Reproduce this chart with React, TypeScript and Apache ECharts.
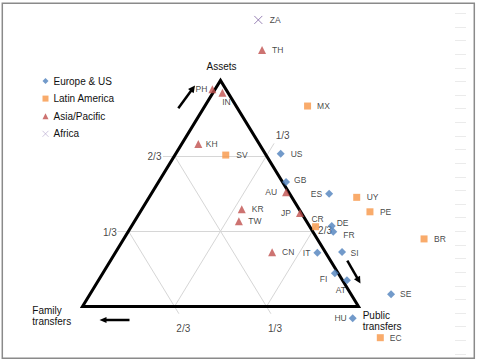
import React, { useEffect, useRef } from "react";
import * as echarts from "echarts";

// ---- Data: shares of Assets (A) and Public transfers (P); Family = 1 - A - P ----
const euNames = ["US", "GB", "ES", "DE", "FR", "IT", "SI", "FI", "AT", "SE", "HU"];
const euAssets = [0.676, 0.551, 0.499, 0.356, 0.331, 0.238, 0.241, 0.147, 0.116, 0.054, -0.052];
const euPublic = [0.38, 0.462, 0.644, 0.725, 0.743, 0.732, 0.82, 0.841, 0.9, 1.091, 1.005];

const laNames = ["MX", "SV", "UY", "PE", "CR", "BR", "EC"];
const laAssets = [0.887, 0.67, 0.483, 0.419, 0.353, 0.299, -0.138];
const laPublic = [0.372, 0.184, 0.752, 0.832, 0.668, 1.088, 1.148];

const apNames = ["TH", "PH", "IN", "KH", "AU", "KR", "TW", "JP", "CN"];
const apAssets = [1.135, 0.961, 0.946, 0.719, 0.505, 0.43, 0.377, 0.414, 0.24];
const apPublic = [0.083, -0.01, 0.034, 0.06, 0.485, 0.362, 0.378, 0.581, 0.567];

const afNames = ["ZA"];
const afAssets = [1.268];
const afPublic = [0.003];

const seriesNames = ["Europe & US", "Latin America", "Asia/Pacific", "Africa"];
const gridLevels = [1 / 3, 2 / 3];
const levelLabels = ["1/3", "2/3"];
const vertexTitles = ["Assets", "Family\ntransfers", "Public\ntransfers"];

// ---- Layout / style ----
const W = 478;
const H = 361;
const PX0 = 82.5;
const PX1 = 358.5;
const PYB = 306.5;
const PYT = 80.5;
const SX = PX1 - PX0;
const SY = PYB - PYT;
const FONT = "'Liberation Sans', Arial, sans-serif";
const X_PATH = "path://M0,0L10,10M10,0L0,10";

const toXY = (a: number, p: number) => [p + a / 2, a];

const labelPlacement: Record<string, any> = {
  ZA: { position: "right", distance: 5 },
  TH: { position: "right", distance: 6 },
  MX: { position: "right", distance: 6 },
  PH: { position: "left", distance: 1 },
  IN: { position: "bottom", distance: 1, offset: [4, 0] },
  KH: { position: "right", distance: 3.5 },
  SV: { position: "right", distance: 7 },
  US: { position: "right", distance: 6 },
  GB: { position: "right", distance: 4, offset: [0, -1.5] },
  AU: { position: "left", distance: 5 },
  ES: { position: "left", distance: 3 },
  UY: { position: "right", distance: 6.5 },
  PE: { position: "right", distance: 6.5 },
  KR: { position: "right", distance: 6 },
  TW: { position: "right", distance: 5.5 },
  JP: { position: "left", distance: 5 },
  CR: { position: "top", distance: 0, offset: [2, 0] },
  DE: { position: "right", distance: 1, offset: [0, -3] },
  FR: { position: "right", distance: 6, offset: [0, 3] },
  CN: { position: "right", distance: 6 },
  IT: { position: "left", distance: 3 },
  SI: { position: "right", distance: 4.5, offset: [0, 1] },
  FI: { position: "left", distance: 3.5, offset: [0, 6] },
  AT: { position: "bottom", distance: 1.5, offset: [-6, 0] },
  SE: { position: "right", distance: 5 },
  HU: { position: "left", distance: 2 },
  EC: { position: "right", distance: 6 },
  BR: { position: "right", distance: 6.5 },
};

// tick extensions & label offsets (pixels) per grid level index
const extA = [0.04, 0.042];
const extP = [0.055, 0.03];
const extF = [0.032, 0.032];
const offA = [[-7.5, 1.8], [-8.4, 0.2]];
const offP = [[8.6, -8.4], [8.4, 6.6]];
const offF = [[4.1, 14.6], [4.4, 14.6]];

function arrow(x1: number, y1: number, x2: number, y2: number, headLen = 7, headHalf = 3.5, width = 2.5) {
  const dx = x2 - x1;
  const dy = y2 - y1;
  const L = Math.hypot(dx, dy);
  const ux = dx / L;
  const uy = dy / L;
  const bx = x2 - ux * headLen;
  const by = y2 - uy * headLen;
  const nx = -uy;
  const ny = ux;
  return [
    {
      type: "line",
      z: 10,
      shape: { x1, y1, x2: bx + ux, y2: by + uy },
      style: { stroke: "#000", lineWidth: width },
    },
    {
      type: "polygon",
      z: 10,
      shape: {
        points: [
          [x2, y2],
          [bx + nx * headHalf, by + ny * headHalf],
          [bx - nx * headHalf, by - ny * headHalf],
        ],
      },
      style: { fill: "#000" },
    },
  ];
}

function makeSeries(name: string, names: string[], assets: number[], pub: number[], symbol: string, size: number, itemStyle: any) {
  return {
    type: "scatter",
    name,
    symbol,
    symbolSize: size,
    z: 5,
    clip: false,
    itemStyle,
    emphasis: { disabled: true },
    label: { show: true, formatter: "{b}", fontSize: 8.5, color: "#111", fontFamily: FONT },
    data: names.map((n, i) => ({ name: n, value: toXY(assets[i], pub[i]), label: labelPlacement[n] })),
  };
}

export default function App() {
  const ref = useRef<HTMLDivElement>(null);

  useEffect(() => {
    if (!ref.current) return;
    const chart = echarts.init(ref.current, undefined, { renderer: "svg" });

    const gridSegs: any[] = [];
    const tickPts: any[] = [];
    gridLevels.forEach((v, i) => {
      // Assets = v (horizontal)
      const a0 = toXY(v, -extA[i]);
      gridSegs.push({ coords: [a0, toXY(v, 1 - v)] });
      tickPts.push({ name: levelLabels[i], value: a0, label: { position: [offA[i][0] + 0.5, offA[i][1] + 0.5] } });
      // Public = v (parallel to left edge)
      const p1 = toXY(1 - v + extP[i], v);
      gridSegs.push({ coords: [toXY(0, v), p1] });
      tickPts.push({ name: levelLabels[i], value: p1, label: { position: [offP[i][0] + 0.5, offP[i][1] + 0.5] } });
      // Family = v (parallel to right edge)
      const f0 = toXY(-extF[i], 1 - v + extF[i]);
      gridSegs.push({ coords: [f0, toXY(1 - v, 0)] });
      tickPts.push({ name: levelLabels[i], value: f0, label: { position: [offF[i][0] + 0.5, offF[i][1] + 0.5] } });
    });

    const triangle = [toXY(0, 0), toXY(0, 1), toXY(1, 0), toXY(0, 0), toXY(0, 1)];

    const option: any = {
      animation: false,
      backgroundColor: "#fff",
      textStyle: { fontFamily: FONT },
      grid: [
        { left: 0, top: 0, width: W, height: H },
        { left: 455, top: 13.3, width: 11, height: 340.7 },
      ],
      xAxis: [
        { type: "value", gridIndex: 0, min: -PX0 / SX, max: (W - PX0) / SX, show: false },
        { type: "value", gridIndex: 1, min: 0, max: 1, show: false },
      ],
      yAxis: [
        { type: "value", gridIndex: 0, min: -(H - PYB) / SY, max: PYB / SY, show: false },
        {
          type: "value",
          gridIndex: 1,
          min: 0,
          max: 25,
          interval: 1,
          axisLine: { show: false },
          axisTick: { show: false },
          axisLabel: { show: false },
          splitLine: { show: true, lineStyle: { color: "#ebebeb", width: 1 } },
        },
      ],
      legend: {
        orient: "vertical",
        left: 40,
        top: 75,
        padding: 0,
        itemWidth: 6,
        itemHeight: 6,
        itemGap: 5.6,
        data: [
          seriesNames[0],
          seriesNames[1],
          seriesNames[2],
          {
            name: seriesNames[3],
            icon: X_PATH,
            itemStyle: { color: "none", borderColor: "#b3a6cc", borderWidth: 0.8 },
          },
        ],
        textStyle: { fontSize: 10, color: "#111", fontFamily: FONT, lineHeight: 12 },
      },
      graphic: [
        {
          type: "rect",
          z: 0,
          shape: { x: 2.3, y: 3.3, width: 472, height: 355 },
          style: { fill: "none", stroke: "#8a8a8a", lineWidth: 1.5 },
        },
        {
          type: "text",
          z: 10,
          x: 221.5,
          y: 66,
          style: { text: vertexTitles[0], fontSize: 10, fontFamily: FONT, fill: "#111", align: "center", verticalAlign: "middle" },
        },
        {
          type: "text",
          z: 10,
          x: 32.3,
          y: 316,
          style: { text: vertexTitles[1], fontSize: 10, fontFamily: FONT, fill: "#111", align: "left", verticalAlign: "middle", lineHeight: 11.5 },
        },
        {
          type: "text",
          z: 10,
          x: 362.7,
          y: 320.5,
          style: { text: vertexTitles[2], fontSize: 10, fontFamily: FONT, fill: "#111", align: "left", verticalAlign: "middle", lineHeight: 11 },
        },
        ...arrow(178.3, 108.3, 195, 85.5),
        ...arrow(129.5, 320, 99.5, 320, 7, 3),
        ...arrow(347.3, 260.7, 360.5, 283.5),
      ],
      series: [
        {
          type: "lines",
          coordinateSystem: "cartesian2d",
          z: 1,
          silent: true,
          lineStyle: { color: "#d6d6d6", width: 1, opacity: 1 },
          data: gridSegs,
        },
        {
          type: "line",
          z: 3,
          silent: true,
          symbol: "none",
          lineStyle: { color: "#000", width: 3, join: "miter", cap: "butt" },
          data: triangle,
        },
        {
          type: "scatter",
          z: 2,
          silent: true,
          symbolSize: 1,
          clip: false,
          itemStyle: { color: "rgba(0,0,0,0)" },
          label: {
            show: true,
            formatter: "{b}",
            fontSize: 10,
            color: "#111",
            fontFamily: FONT,
            align: "center",
            verticalAlign: "middle",
          },
          data: tickPts,
        },
        makeSeries(seriesNames[0], euNames, euAssets, euPublic, "diamond", 8, { color: "#4F81BD" }),
        makeSeries(seriesNames[1], laNames, laAssets, laPublic, "rect", 7, { color: "#F79646" }),
        makeSeries(seriesNames[2], apNames, apAssets, apPublic, "triangle", 8, { color: "#C0504D" }),
        makeSeries(seriesNames[3], afNames, afAssets, afPublic, X_PATH, 8, {
          color: "none",
          borderColor: "#8064A2",
          borderWidth: 1,
        }),
      ],
    };

    chart.setOption(option);
    return () => chart.dispose();
  }, []);

  return <div ref={ref} style={{ position: "absolute", left: 0, top: 0, width: W, height: H }} />;
}
